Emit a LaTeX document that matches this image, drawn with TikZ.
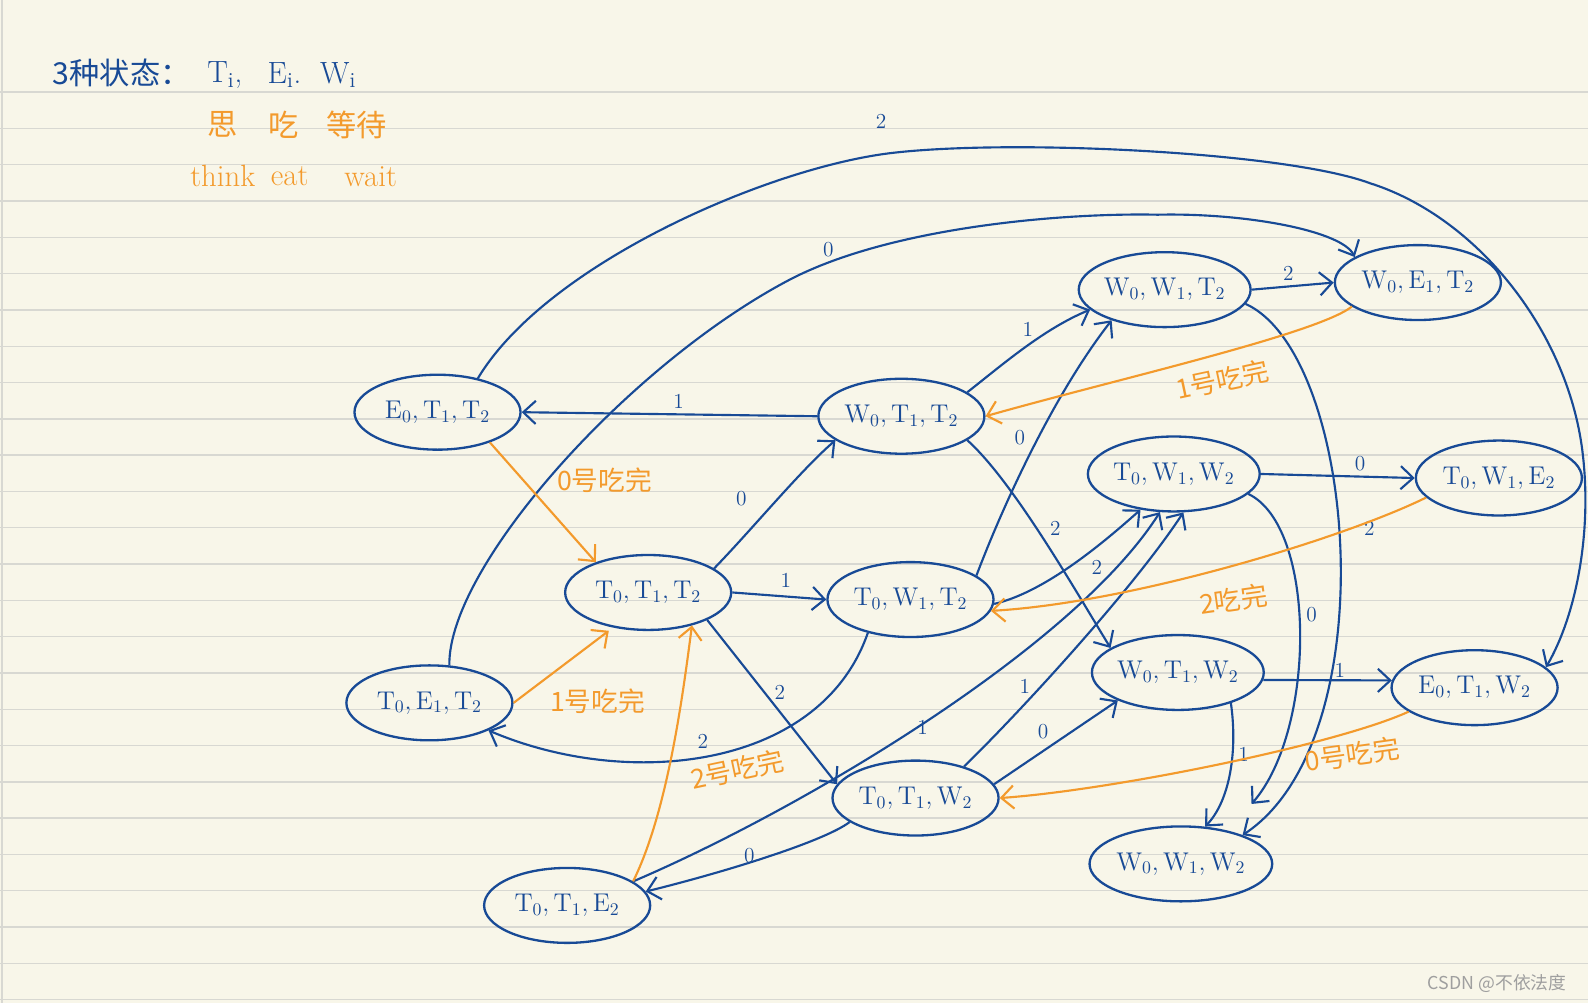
\documentclass[tikz,border=0pt]{standalone}
\usepackage{fontspec}
\newfontfamily\cjk{Noto Sans CJK SC}
\usetikzlibrary{shapes.geometric,arrows.meta}
\definecolor{ink}{RGB}{24,74,150}
\definecolor{marker}{RGB}{243,154,44}
\definecolor{paper}{RGB}{248,246,233}
\definecolor{rule}{RGB}{216,216,210}

\begin{document}
\begin{tikzpicture}[x=0.02cm, y=-0.02cm,
    state/.style={ellipse, draw=ink, line width=1.3pt, minimum width=3.28cm, minimum height=1.48cm, inner sep=0pt, text=ink, font=\Large},
    wire/.style={draw=ink, line width=1.2pt, -{Straight Barb[length=7pt,width=13pt]}},
    done/.style={draw=marker, line width=1.2pt, -{Straight Barb[length=7pt,width=13pt]}},
    lbl/.style={text=ink, font=\large, inner sep=1pt},
    olbl/.style={text=marker, font=\cjk\fontsize{15}{18}\selectfont, inner sep=1pt}]
  % Paper and rules:
  \fill[paper] (0,0) rectangle (1568,990);
  \useasboundingbox (0,0) rectangle (1568,990);
  \foreach \k in {0,...,25}
    \draw[rule, line width=0.8pt] (0,{91+35.84*\k}) -- (1568,{91+35.84*\k});
  \draw[rule, line width=0.8pt] (2,0) -- (2,990);

  % Heading:
  \node[anchor=west, text=ink, font=\cjk\fontsize{17}{20}\selectfont] (hdr) at (46,72) {3种状态：};
  \node[text=ink, font=\LARGE] (ti) at (222,74) {$\mathrm{T_i}$,};
  \node[text=ink, font=\LARGE] (ei) at (281,74) {$\mathrm{E_i}$.};
  \node[text=ink, font=\LARGE] (wi) at (334,74) {$\mathrm{W_i}$};
  \node[text=marker, font=\cjk\fontsize{17}{20}\selectfont] (zthink) at (220,123) {思};
  \node[text=marker, font=\cjk\fontsize{17}{20}\selectfont] (zeat) at (280,123) {吃};
  \node[text=marker, font=\cjk\fontsize{17}{20}\selectfont] (zwait) at (352,123) {等待};
  \node[text=marker, font=\LARGE] (think) at (220,174) {think};
  \node[text=marker, font=\LARGE] (eat) at (286,174) {eat};
  \node[text=marker, font=\LARGE] (wait) at (366,174) {wait};
  \node[anchor=east, text=gray!75, font=\cjk\fontsize{10}{12}\selectfont] (mark) at (1553,971) {CSDN @不依法度};

  % States:
  \node[state] (e0t1t2) at (432,407) {$\mathrm{E_0,T_1,T_2}$};
  \node[state] (w0t1t2) at (890,411) {$\mathrm{W_0,T_1,T_2}$};
  \node[state] (t0t1t2) at (640,585) {$\mathrm{T_0,T_1,T_2}$};
  \node[state] (t0w1t2) at (899,592) {$\mathrm{T_0,W_1,T_2}$};
  \node[state] (t0e1t2) at (424,694) {$\mathrm{T_0,E_1,T_2}$};
  \node[state] (t0t1e2) at (560,894) {$\mathrm{T_0,T_1,E_2}$};
  \node[state] (t0t1w2) at (904,788) {$\mathrm{T_0,T_1,W_2}$};
  \node[state] (w0w1t2) at (1150,286) {$\mathrm{W_0,W_1,T_2}$};
  \node[state] (w0e1t2) at (1400,279) {$\mathrm{W_0,E_1,T_2}$};
  \node[state] (t0w1w2) at (1159,468) {$\mathrm{T_0,W_1,W_2}$};
  \node[state] (t0w1e2) at (1480,472) {$\mathrm{T_0,W_1,E_2}$};
  \node[state] (w0t1w2) at (1163,664) {$\mathrm{W_0,T_1,W_2}$};
  \node[state] (e0t1w2) at (1456,679) {$\mathrm{E_0,T_1,W_2}$};
  \node[state] (w0w1w2) at (1166,853) {$\mathrm{W_0,W_1,W_2}$};

  % Hungry and eating moves:
  \draw[wire] (w0t1t2.west) -- (e0t1t2.east) node[lbl] at (670,396) {1};
  \draw[wire] (e0t1t2.40) .. controls (540,260) and (760,165) .. (881,151)
    .. controls (1000,137) and (1270,150) .. (1353,181)
    .. controls (1460,215) and (1550,330) .. (1563,450)
    .. controls (1572,530) and (1555,610) .. (e0t1w2.16) node[lbl] at (870,120) {2};
  \draw[wire] (t0e1t2.62) .. controls (442,560) and (620,360) .. (780,276)
    .. controls (880,224) and (1050,210) .. (1143,212)
    .. controls (1230,210) and (1325,228) .. (w0e1t2.158) node[lbl] at (818,246) {0};
  \draw[wire] (t0t1t2.20) .. controls (745,520) and (790,465) .. (w0t1t2.200) node[lbl] at (732,492) {0};
  \draw[wire] (t0t1t2.east) -- (t0w1t2.west) node[lbl] at (776,573) {1};
  \draw[wire] (t0t1t2.-25) -- (t0t1w2.170) node[lbl] at (770,684) {2};
  \draw[wire] (w0t1t2.20) .. controls (990,360) and (1030,325) .. (w0w1t2.195) node[lbl] at (1015,325) {1};
  \draw[wire] (t0w1t2.20) .. controls (990,500) and (1040,390) .. (w0w1t2.210) node[lbl] at (1007,432) {0};
  \draw[wire] (w0t1t2.-20) .. controls (1000,475) and (1060,580) .. (w0t1w2.160) node[lbl] at (1042,522) {2};
  \draw[wire] (t0w1t2.-3) .. controls (1030,585) and (1085,540) .. (t0w1w2.227) node[lbl] at (1083,560) {2};
  \draw[wire] (t0w1t2.218) .. controls (810,760) and (620,780) .. (t0e1t2.-25) node[lbl] at (694,732) {2};
  \draw[wire] (t0t1e2.20) .. controls (790,800) and (1060,640) .. (t0w1w2.250) node[lbl] at (911,718) {1};
  \draw[wire] (t0t1w2.33) .. controls (1010,700) and (1120,580) .. (t0w1w2.-76) node[lbl] at (1012,678) {1};
  \draw[wire] (t0t1w2.10) -- (w0t1w2.205) node[lbl] at (1030,722) {0};
  \draw[wire] (t0t1w2.200) .. controls (815,830) and (720,860) .. (t0t1e2.10) node[lbl] at (740,845) {0};
  \draw[wire] (w0w1t2.-10) .. controls (1340,350) and (1370,730) .. (w0w1w2.25) node[lbl] at (1352,522) {2};
  \draw[wire, shorten >=0.7cm] (t0w1w2.-15) .. controls (1300,520) and (1300,720) .. (w0w1w2.35) node[lbl] at (1295,607) {0};
  \draw[wire] (w0t1w2.-30) .. controls (1222,740) and (1215,790) .. (w0w1w2.57) node[lbl] at (1228,745) {1};
  \draw[wire] (w0w1t2.east) -- (w0e1t2.west) node[lbl] at (1272,270) {2};
  \draw[wire] (t0w1w2.east) -- (t0w1e2.west) node[lbl] at (1343,458) {0};
  \draw[wire] (w0t1w2.-5) -- (e0t1w2.175) node[lbl] at (1323,662) {1};

  % Finished eating:
  \draw[done] (e0t1t2.-30) -- (t0t1t2.150) node[olbl] at (597,474) {0号吃完};
  \draw[done, shorten >=3pt] (t0e1t2.east) -- (t0t1t2.-135) node[olbl] at (590,692) {1号吃完};
  \draw[done] (t0t1e2.20) .. controls (660,800) and (675,680) .. (t0t1t2.-37) node[olbl, rotate=12] at (728,760) {2号吃完};
  \draw[done] (w0e1t2.200) .. controls (1300,330) and (1100,375) .. (w0t1t2.east) node[olbl, rotate=12] at (1207,375) {1号吃完};
  \draw[done] (t0w1e2.195) .. controls (1330,530) and (1120,595) .. (t0w1t2.-8) node[olbl, rotate=8] at (1218,592) {2吃完};
  \draw[done] (e0t1w2.200) .. controls (1320,735) and (1100,780) .. (t0t1w2.east) node[olbl, rotate=8] at (1335,745) {0号吃完};
\end{tikzpicture}
\end{document}
